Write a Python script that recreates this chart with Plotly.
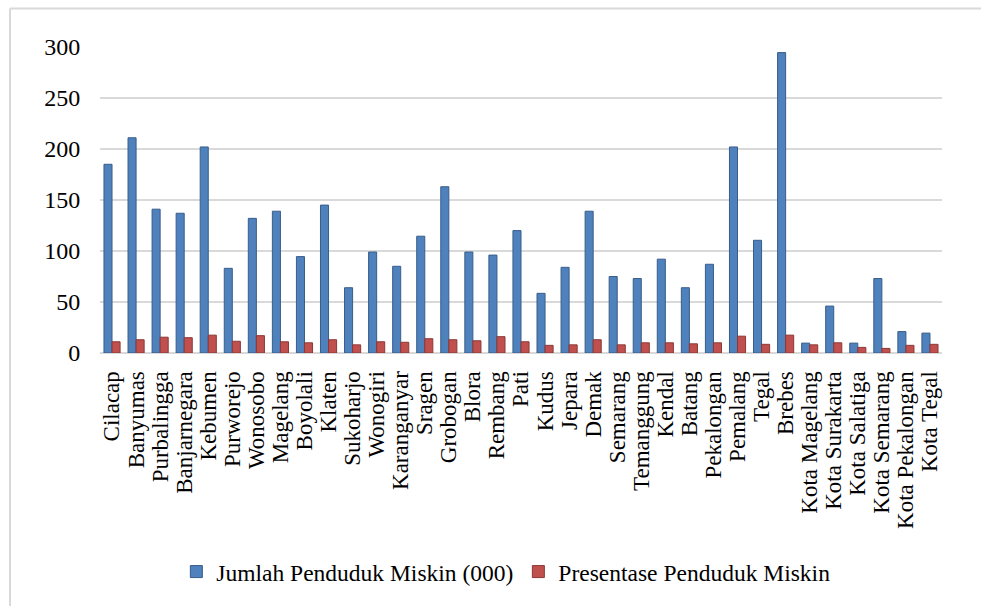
import plotly.graph_objects as go

regions = ["Cilacap", "Banyumas", "Purbalingga", "Banjarnegara", "Kebumen", "Purworejo",
           "Wonosobo", "Magelang", "Boyolali", "Klaten", "Sukoharjo", "Wonogiri",
           "Karanganyar", "Sragen", "Grobogan", "Blora", "Rembang", "Pati", "Kudus",
           "Jepara", "Demak", "Semarang", "Temanggung", "Kendal", "Batang", "Pekalongan",
           "Pemalang", "Tegal", "Brebes", "Kota Magelang", "Kota Surakarta", "Kota Salatiga",
           "Kota Semarang", "Kota Pekalongan", "Kota Tegal"]

jumlah = [185, 211, 141, 137, 202, 83, 132, 139, 94.5, 145, 64, 99,
          85, 114.5, 163, 99, 96, 120, 58.5, 84, 139, 75, 73, 92, 64, 87,
          202, 110.5, 294.5, 9.7, 46, 9.7, 73, 21, 19.5]

persen = [11, 13, 15.5, 15, 17.5, 11.5, 17, 11, 10, 13, 8, 11,
          10.5, 14, 13, 12, 16, 11, 7.5, 8, 13, 8, 10, 10, 9, 10,
          16.5, 8.5, 17.5, 8, 10, 5.5, 4.5, 7.5, 8.5]

y_ticks = [0, 50, 100, 150, 200, 250, 300]

FONT = "Liberation Serif, Times New Roman, serif"
CLEAR = "rgba(0,0,0,0)"

fig = go.Figure()
fig.add_trace(go.Bar(x=regions, y=jumlah, name="Jumlah Penduduk Miskin (000)",
                     marker=dict(color="#4F81BD", line=dict(color="#385D8A", width=1))))
fig.add_trace(go.Bar(x=regions, y=persen, name="Presentase Penduduk Miskin",
                     marker=dict(color="#C0504D", line=dict(color="#8C3836", width=1))))

fig.update_layout(
    width=981, height=606,
    margin=dict(l=100, r=39, t=47, b=250),
    paper_bgcolor="white", plot_bgcolor="white",
    barmode="group", bargap=0.33, bargroupgap=0,
    font=dict(family=FONT, size=23, color="black"),
    showlegend=True,
    legend=dict(orientation="h", x=0.482, xanchor="center", y=-0.715, yanchor="middle",
                font=dict(family=FONT, size=23.5, color="black"), itemwidth=30),
    xaxis=dict(tickmode="array", tickvals=regions, ticktext=regions,
               tickangle=-90, showgrid=False, showline=False,
               ticks="outside", ticklen=8, tickcolor=CLEAR,
               tickfont=dict(family=FONT, size=23, color="black")),
    yaxis=dict(range=[0, 300], tickvals=y_ticks, showgrid=True, gridcolor="#D9D9D9",
               gridwidth=1.5, zeroline=True, zerolinecolor="#D9D9D9", zerolinewidth=1.5,
               showline=False, ticks="outside", ticklen=14, tickcolor=CLEAR,
               tickfont=dict(family=FONT, size=24, color="black")),
    shapes=[
        dict(type="line", xref="paper", yref="paper", x0=-0.1069, x1=1.1, y0=1.1262, y1=1.1262,
             line=dict(color="#D9D9D9", width=2)),
        dict(type="line", xref="paper", yref="paper", x0=-0.1069, x1=-0.1069, y0=1.1262, y1=-0.85,
             line=dict(color="#D9D9D9", width=2)),
    ],
)

fig.write_html("out.html")
